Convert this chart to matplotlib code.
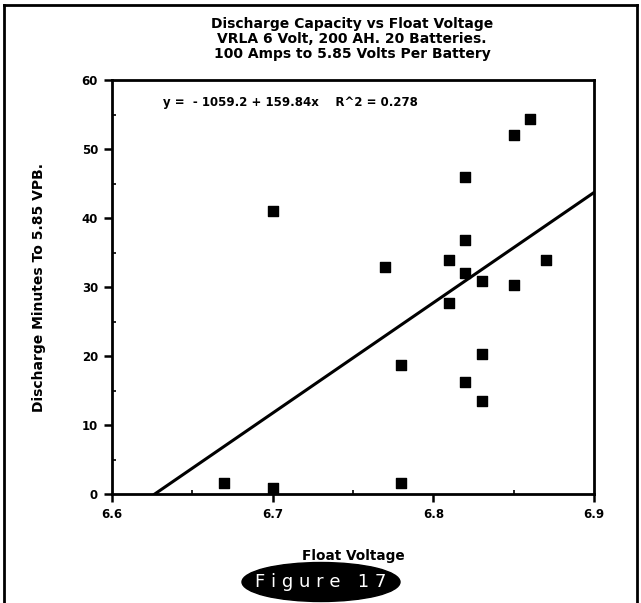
import numpy as np
import matplotlib.pyplot as plt
from matplotlib.patches import Ellipse
from matplotlib.lines import Line2D

# float voltage vs discharge minutes
volts = [6.67, 6.70, 6.70, 6.77, 6.78, 6.78, 6.81, 6.81, 6.82, 6.82,
         6.82, 6.82, 6.83, 6.83, 6.83, 6.85, 6.85, 6.86, 6.87]
minutes = [1.6, 0.9, 41.0, 32.9, 18.7, 1.6, 33.9, 27.7, 45.9, 36.8,
           32.0, 16.2, 30.9, 20.3, 13.5, 52.0, 30.3, 54.3, 33.9]

# fit printed on the chart
intercept = -1059.2
slope = 159.84
r2 = 0.278

x_ticks = [6.6, 6.7, 6.8, 6.9]
y_ticks = [0, 10, 20, 30, 40, 50, 60]

title_lines = ["Discharge Capacity vs Float Voltage",
               "VRLA 6 Volt, 200 AH. 20 Batteries.",
               "100 Amps to 5.85 Volts Per Battery"]

W, H = 641, 603
fig = plt.figure(figsize=(W / 100, H / 100), dpi=100)
ax = fig.add_axes([112 / W, 1 - 494 / H, (594 - 112) / W, (494 - 80) / H])

ax.scatter(volts, minutes, marker='s', s=42, color='black', zorder=3)

x0 = -intercept / slope
xs = np.array([x0, 6.9])
ax.plot(xs, intercept + slope * xs, color='black', lw=2.2)

ax.set_xlim(6.6, 6.9)
ax.set_ylim(0, 60)
ax.set_xticks(x_ticks)
ax.set_xticklabels([f"{v:.1f}" for v in x_ticks])
ax.set_yticks(y_ticks)
ax.set_xticks([6.65, 6.75, 6.85], minor=True)
ax.set_yticks([5, 15, 25, 35, 45, 55], minor=True)
ax.tick_params(which='major', direction='out', length=6, width=1.8,
               labelsize=8.5, pad=4)
ax.tick_params(which='minor', direction='in', length=3, width=1.2)
for lab in ax.get_xticklabels() + ax.get_yticklabels():
    lab.set_fontweight('heavy')
for sp in ax.spines.values():
    sp.set_linewidth(2)

ax.text(6.632, 56.7, f"y =  - {abs(intercept)} + {slope}x    R^2 = {r2}",
        fontsize=8.5, fontweight='heavy', va='center', ha='left')

ax.set_xlabel("Float Voltage", fontsize=9.8, fontweight='heavy', labelpad=20)
ax.set_ylabel("Discharge Minutes To 5.85 VPB.", fontsize=10,
              fontweight='heavy', labelpad=26)

fig.text(352 / W, 1 - 17 / H, "\n".join(title_lines), ha='center', va='top',
         fontsize=10, fontweight='heavy', linespacing=1.08)

# "Figure 17" badge
badge = Ellipse((321 / W, 1 - 582 / H), 158 / W, 39 / H, transform=fig.transFigure,
                facecolor='black', edgecolor='black')
fig.patches.append(badge)
fig.text(321 / W, 1 - 582 / H, "F i g u r e   1 7", color='white', fontsize=13,
         ha='center', va='center')

# page frame
for xy in [([4, 637], [5, 5]), ([4, 4], [5, 603]), ([637, 637], [5, 603])]:
    fig.lines.append(Line2D(np.array(xy[0]) / W, 1 - np.array(xy[1]) / H,
                            transform=fig.transFigure, color='black', lw=2))

fig.savefig("out.png", dpi=100)
